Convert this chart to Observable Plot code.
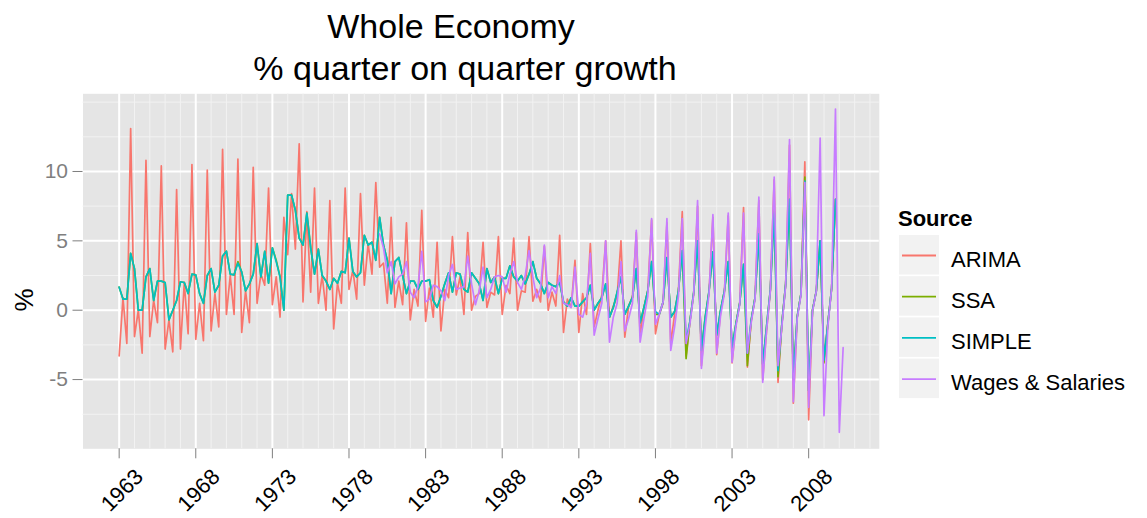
<!DOCTYPE html>
<html><head><meta charset="utf-8">
<script src="https://cdn.jsdelivr.net/npm/d3@7"></script>
<script src="https://cdn.jsdelivr.net/npm/@observablehq/plot@0.6"></script>
<style>
html,body{margin:0;padding:0;background:#fff;}
#chart svg{display:block;}
</style></head><body><div id="chart"></div>
<script>
// ---- data (quarterly % growth, first quarter = 1963 Q1) ----
const startYear = 1963;
const seriesNames = ["ARIMA", "SSA", "SIMPLE", "Wages & Salaries"];
const seriesColors = ["#F8766D", "#7CAE00", "#00BFC4", "#C77CFF"];
const xTickYears = [1963, 1968, 1973, 1978, 1983, 1988, 1993, 1998, 2003, 2008];
const xMinorYears = [1964,1965,1966,1967,1969,1970,1971,1972,1974,1975,1976,1977,1979,1980,1981,1982,1984,1985,1986,1987,1989,1990,1991,1992,1994,1995,1996,1997,1999,2000,2001,2002,2004,2005,2006,2007,2009,2010,2011,2012];
const yTicks = [-5, 0, 5, 10];
const yMinor = [-7.5, -2.5, 2.5, 7.5, 12.5, 15];

const arima = [
 -3.3, 0.9, -2.4, 13.1,
 -1.9, 0.0, -3.1, 10.8,
 -1.9, 0.7, -0.9, 10.4,
 -2.8, -0.7, -3.0, 8.7,
 -2.8, 2.0, -1.7, 10.5,
 -2.1, 0.5, -2.2, 10.1,
 -1.5, 1.2, -1.2, 11.6,
 -0.3, 2.5, -0.3, 10.9,
 -1.6, 1.4, -0.9, 10.3,
 0.5, 2.6, 1.8, 8.8,
 0.4, 2.4, -0.5, 6.7,
 4.0, 8.4, 4.4, 12.0,
 0.6, 7.1, 1.3, 8.8,
 0.5, 2.5, 0.0, 7.9,
 -1.35, 1.95, 0.5, 8.8,
 1.5, 2.9, 0.8, 8.4,
 1.8, 4.8, 2.6, 9.2,
 3.1, 3.4, 0.5, 6.7,
 0.2, 2.1, 0.4, 6.3,
 -0.7, 1.5, 0.3, 7.2,
 -0.8, 1.6, -0.5, 4.9,
 -1.5, 1.5, 0.9, 5.3,
 1.1, 2.4, -0.3, 5.6,
 0.0, 1.0, 1.2, 4.9,
 0.2, 1.3, 1.1, 5.3,
 -0.3, 1.8, 1.2, 5.2,
 0.0, 1.4, 1.3, 5.3,
 0.65, 1.5, 0.6, 4.6,
 0.0, 1.3, 0.3, 5.4,
 -1.6, 0.8, 0.2, 3.6,
 -1.6, 1.2, -0.3, 4.8,
 -1.2, 0.0, 1.1, 5.0,
 -0.5, 0.3, 1.0, 5.0,
 -1.95, 0.3, 1.0, 5.6,
 -1.8, 0.2, 1.4, 6.5,
 -1.7, -0.3, 0.5, 6.3,
 -2.4, -0.3, 1.4, 7.1,
 -3.3, -0.8, 1.2, 7.5,
 -4.0, -0.6, 1.3, 6.7,
 -3.2, -0.1, 1.3, 6.8,
 -3.8, -1.0, 0.5, 7.4,
 -4.1, -0.8, 0.9, 7.9,
 -5.0, -1.5, 1.4, 9.4,
 -5.2, -1.0, 1.9, 11.9,
 -6.7, -0.5, 1.2, 10.7,
 -7.9, 0.0, 1.4, 5.0,
 -3.6, -1.0, 1.6, 8.0
];

const ssa = [
 1.66, 0.8, 0.8, 4.1,
 3.0, 0.0, 0.0, 2.4,
 3.0, 0.7, 2.1, 2.1,
 2.0, -0.7, 0.0, 0.7,
 2.05, 2.0, 1.2, 2.6,
 2.55, 1.2, 0.5, 2.5,
 3.0, 1.3, 1.8, 3.9,
 4.25, 2.6, 2.55, 3.5,
 2.75, 1.4, 1.9, 2.6,
 4.8, 2.4, 4.25, 1.95,
 4.5, 3.6, 2.4, 0.0,
 8.3, 8.3, 7.2, 5.2,
 4.7, 7.0, 4.5, 2.6,
 4.4, 2.5, 2.1, 1.5,
 2.3, 1.95, 2.8, 2.7,
 5.2, 2.8, 2.4, 2.7,
 5.4, 4.7, 4.9, 3.6,
 6.7, 4.7, 3.6, 1.2,
 3.5, 3.8, 2.5, 1.2,
 2.1, 2.1, 1.5, 2.1,
 2.1, 2.2, 0.7, 0.2,
 1.0, 1.9, 2.7, 1.3,
 2.7, 2.6, 1.5, 1.3,
 2.7, 2.3, 1.9, 0.7,
 3.0, 2.0, 2.4, 1.2,
 2.3, 2.3, 3.2, 2.4,
 2.1, 2.5, 1.9, 2.6,
 3.5, 2.3, 1.9, 1.2,
 2.0, 1.8, 1.7, 2.0,
 0.6, 0.3, 0.9, 0.3,
 0.3, 0.6, 0.9, 1.8,
 0.0, 0.5, 0.9, 1.9,
 -0.5, 0.2, 1.3, 2.4,
 -0.3, 0.3, 0.9, 3.0,
 -0.9, 0.2, 1.4, 3.5,
 -0.3, -0.3, 0.6, 3.8,
 -0.5, -0.1, 1.4, 4.3,
 -3.5, -0.8, 1.3, 5.0,
 -2.9, -0.5, 1.4, 4.2,
 -1.8, 0.0, 1.4, 3.5,
 -2.7, -1.0, 0.5, 3.3,
 -4.0, -0.7, 0.9, 5.5,
 -3.9, -1.2, 1.5, 7.2,
 -4.8, -1.0, 1.9, 8.0,
 -4.9, -0.5, 1.2, 9.6,
 -5.8, 0.0, 1.4, 5.0,
 -3.8, -1.0, 1.6, 8.0
];

const simple = [
 1.66, 0.8, 0.8, 4.1,
 3.0, 0.0, 0.0, 2.4,
 3.0, 0.7, 2.1, 2.1,
 2.0, -0.7, 0.0, 0.7,
 2.05, 2.0, 1.2, 2.6,
 2.55, 1.2, 0.5, 2.5,
 3.0, 1.3, 1.8, 3.9,
 4.25, 2.6, 2.55, 3.4,
 2.75, 1.4, 1.9, 2.6,
 4.8, 2.4, 4.25, 1.95,
 4.5, 3.5, 2.4, 0.0,
 8.3, 8.3, 7.2, 5.2,
 4.7, 7.0, 4.5, 2.6,
 4.4, 2.5, 2.1, 1.5,
 2.3, 1.95, 2.8, 2.7,
 5.2, 2.8, 2.4, 2.7,
 5.4, 4.7, 4.9, 3.6,
 6.7, 4.7, 3.6, 1.2,
 3.5, 3.8, 2.5, 1.2,
 2.1, 2.1, 1.5, 2.1,
 2.1, 2.2, 0.7, 0.2,
 1.0, 1.9, 2.7, 1.3,
 2.7, 2.6, 1.5, 1.3,
 2.7, 2.3, 1.9, 0.7,
 3.0, 2.0, 2.4, 1.2,
 2.3, 2.3, 3.2, 2.4,
 2.1, 2.5, 1.9, 2.6,
 3.5, 2.3, 1.9, 1.2,
 2.0, 1.8, 1.7, 2.0,
 0.6, 0.3, 0.9, 0.3,
 0.3, 0.6, 0.9, 1.8,
 0.0, 0.5, 0.9, 1.9,
 -0.5, 0.2, 1.3, 2.4,
 -0.3, 0.3, 0.9, 3.0,
 -0.9, 0.2, 1.4, 3.5,
 -0.1, -0.3, 0.6, 3.8,
 -0.5, -0.1, 1.4, 4.3,
 -2.2, -0.8, 1.3, 5.0,
 -2.9, -0.5, 1.4, 4.2,
 -1.8, 0.0, 1.4, 3.5,
 -2.7, -1.0, 0.5, 3.3,
 -3.1, -0.7, 0.9, 5.5,
 -3.9, -1.2, 1.5, 7.0,
 -4.35, -1.0, 1.9, 8.0,
 -4.9, -0.5, 1.2, 9.3,
 -5.8, 0.0, 1.4, 5.0,
 -3.6, -1.0, 1.6, 8.0
];

// Wages & Salaries start in 1980 Q1 (68 quarters after 1963 Q1)
const wagesOffset = 68;
const wages = [
 5.5, 4.5, 2.7, 3.5,
 1.9, 2.4, 2.6, 3.5,
 1.3, 0.9, 1.7, 4.25,
 0.6, 0.8, 1.8, 1.7,
 1.4, 0.7, 2.5, 3.3,
 1.5, 1.6, 1.7, 3.9,
 1.9, 0.4, 1.4, 3.1,
 0.9, 1.5, 2.4, 2.5,
 2.4, 1.3, 2.6, 3.5,
 2.0, 1.5, 2.5, 4.3,
 2.4, 0.9, 1.6, 4.7,
 0.9, 1.7, 1.2, 2.5,
 0.5, 0.4, 0.2, 3.1,
 -0.3, -0.5, 0.5, 4.1,
 -1.8, -0.6, 0.5, 5.0,
 -2.3, -0.5, 0.5, 3.5,
 -1.5, -0.6, 0.5, 5.75,
 -2.3, -0.6, 1.0, 6.6,
 -1.0, -0.3, 0.6, 6.6,
 -2.9, -1.2, 1.0, 6.6,
 -2.4, -1.0, 1.2, 7.9,
 -4.2, -1.2, 1.2, 6.9,
 -3.1, -0.4, 1.2, 7.0,
 -3.75, -1.2, 0.4, 7.0,
 -3.1, -0.9, 0.8, 8.15,
 -5.2, -1.5, 1.4, 9.6,
 -4.0, -1.2, 1.8, 12.3,
 -6.6, -0.6, 1.1, 9.2,
 -7.0, -0.1, 1.4, 12.4,
 -7.6, -1.2, 1.6, 14.5,
 -8.8, -2.7
];

// ---- build long table ----
const rows = [];
function addSeries(name, arr, offset) {
  arr.forEach((v, k) => rows.push({t: startYear + (k + offset) / 4, v, Source: name}));
}
addSeries("ARIMA", arima, 0);
addSeries("SSA", ssa, 0);
addSeries("SIMPLE", simple, 0);
addSeries("Wages & Salaries", wages, wagesOffset);

const FONT = "'Liberation Sans', Arial, Helvetica, sans-serif";
const W = 1147, H = 518;
const L = 82.5, R = 878.8, T = 93.3, B = 448.3;
const yDomain = [-9.99, 15.6];
// vertical position (in y units) of the rotated year labels, below the panel
const xLabelY = yDomain[0] - (490 - B) / ((B - T) / (yDomain[1] - yDomain[0]));

const chart = Plot.plot({
  width: W, height: H,
  marginLeft: L, marginRight: W - R, marginTop: T, marginBottom: H - B,
  style: {fontFamily: FONT, background: "#fff", overflow: "visible"},
  x: {domain: [1960.64, 2012.61]},
  y: {domain: yDomain},
  color: {domain: seriesNames, range: seriesColors},
  marks: [
    Plot.frame({fill: "#e5e5e5", stroke: "none"}),
    Plot.gridY(yMinor, {stroke: "#f2f2f2", strokeOpacity: 1, strokeWidth: 1}),
    Plot.gridX(xMinorYears, {stroke: "#f2f2f2", strokeOpacity: 1, strokeWidth: 1}),
    Plot.gridY(yTicks, {stroke: "#ffffff", strokeOpacity: 1, strokeWidth: 2}),
    Plot.gridX(xTickYears, {stroke: "#ffffff", strokeOpacity: 1, strokeWidth: 2}),
    Plot.line(rows, {x: "t", y: "v", z: "Source", stroke: "Source", strokeWidth: 1.7, strokeLinejoin: "round"}),
    Plot.axisY(yTicks, {tickSize: 10, tickPadding: 5, fontSize: 21, color: "#7f7f7f", label: null, tickFormat: d => String(d)}),
    Plot.axisX(xTickYears, {tickSize: 10, tickFormat: () => "", label: null, color: "#7f7f7f"}),
    Plot.text(xTickYears, {x: d => d + 0.2, y: () => xLabelY, rotate: -45, text: d => String(d), fontSize: 22, fill: "#000", textAnchor: "middle", clip: false})
  ]
});
document.getElementById("chart").appendChild(chart);

// ---- title, y label, legend (static decorations) ----
const svg = d3.select(chart);
svg.append("text").attr("x", 451).attr("y", 38).attr("text-anchor", "middle")
  .attr("font-family", FONT).attr("font-size", 34).attr("fill", "#000").text("Whole Economy");
svg.append("text").attr("x", 465).attr("y", 80).attr("text-anchor", "middle")
  .attr("font-family", FONT).attr("font-size", 34).attr("fill", "#000").text("% quarter on quarter growth");
svg.append("text").attr("transform", "translate(33,300) rotate(-90)").attr("text-anchor", "middle")
  .attr("font-family", FONT).attr("font-size", 26).attr("fill", "#000").text("%");

const lg = svg.append("g").attr("font-family", FONT).attr("text-anchor", "start");
lg.append("text").attr("x", 898).attr("y", 226).attr("font-size", 22).attr("font-weight", "bold")
  .attr("text-anchor", "start").attr("fill", "#000").text("Source");
seriesNames.forEach((name, k) => {
  const y0 = 235 + k * 41.2;
  lg.append("rect").attr("x", 899).attr("y", y0).attr("width", 40).attr("height", 39.5).attr("fill", "#f2f2f2");
  lg.append("line").attr("x1", 902).attr("x2", 936).attr("y1", y0 + 20.5).attr("y2", y0 + 20.5)
    .attr("stroke", seriesColors[k]).attr("stroke-width", 1.8);
  lg.append("text").attr("x", 951).attr("y", y0 + 24).attr("dy", "0.35em").attr("font-size", 22)
    .attr("text-anchor", "start").attr("fill", "#000").text(name);
});
</script>
</body></html>
